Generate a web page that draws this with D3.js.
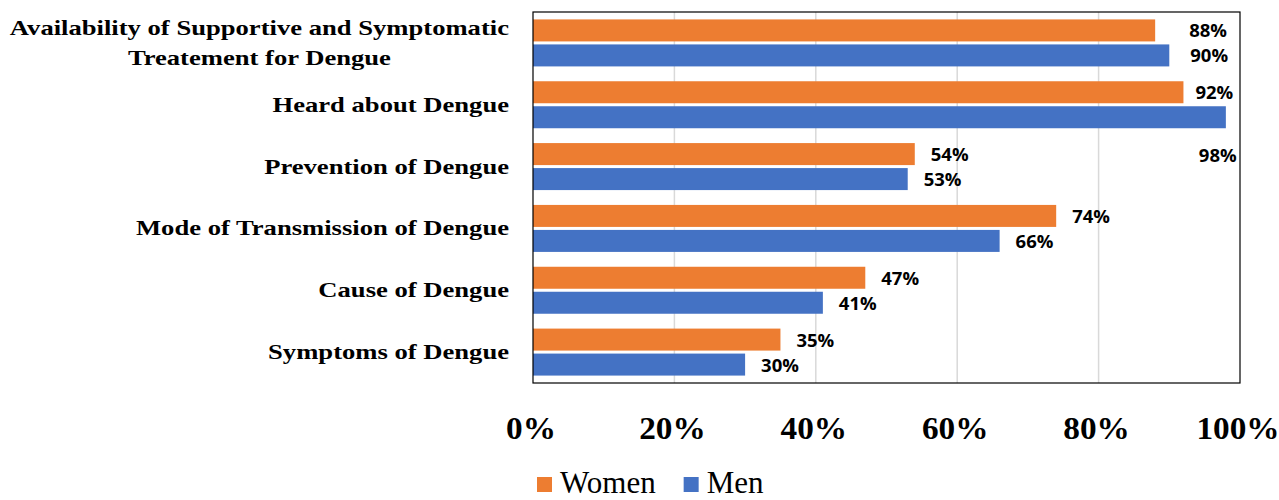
<!DOCTYPE html>
<html><head><meta charset="utf-8">
<script src="https://cdn.jsdelivr.net/npm/d3@7/dist/d3.min.js"></script>
<style>body{margin:0;background:#fff}svg{display:block}</style>
</head><body>
<svg id="chart" width="1279" height="500"></svg>
<script>
const categories = [
  "Availability of Supportive and Symptomatic\nTreatement for Dengue",
  "Heard about Dengue",
  "Prevention of Dengue",
  "Mode of Transmission of Dengue",
  "Cause of Dengue",
  "Symptoms of Dengue"
];
const seriesNames = ["Women", "Men"];
const women = [88, 92, 54, 74, 47, 35];
const men = [90, 98, 53, 66, 41, 30];
const xTicks = [0, 20, 40, 60, 80, 100];
const colors = {Women: "#ED7D31", Men: "#4472C4"};

const svg = d3.select("#chart");
const L = 533, R = 1240, T = 12, B = 383;
const x = d3.scaleLinear().domain([0, 100]).range([L, R]);
const y = d3.scaleBand().domain(categories).range([T, B]).paddingInner(0.24).paddingOuter(0.12);
const y1 = d3.scaleBand().domain(seriesNames).range([0, y.bandwidth()]).paddingInner(0.12);

// gridlines
svg.append("g").selectAll("line").data(xTicks.slice(1, -1)).join("line")
  .attr("x1", d => x(d)).attr("x2", d => x(d)).attr("y1", T).attr("y2", B)
  .attr("stroke", "#d9d9d9").attr("stroke-width", 1.5);

const data = categories.map((c, i) => ({cat: c, Women: women[i], Men: men[i]}));

const g = svg.append("g");
data.forEach(d => {
  seriesNames.forEach(s => {
    g.append("rect")
      .attr("x", x(0)).attr("y", y(d.cat) + y1(s))
      .attr("width", x(d[s]) - x(0)).attr("height", y1.bandwidth())
      .attr("fill", colors[s]);
  });
});

// manual label nudges (as in the original figure)
const nudge = {
  "0-Women": [18, 0], "0-Men": [5, 0], "1-Women": [-4, 0], "1-Men": [-43, 38]
};
data.forEach((d, i) => {
  seriesNames.forEach(s => {
    const n = nudge[i + "-" + s] || [0, 0];
    svg.append("text")
      .attr("x", x(d[s]) + 16 + n[0])
      .attr("y", y(d.cat) + y1(s) + y1.bandwidth() / 2 + 2 + n[1])
      .attr("dominant-baseline", "middle")
      .attr("font-family", "'Open Sans', sans-serif").attr("font-weight", 700)
      .attr("font-size", 18.5).attr("fill", "#000")
      .text(d[s] + "%");
  });
});

// frame
svg.append("rect").attr("x", L).attr("y", T).attr("width", R - L).attr("height", B - T)
  .attr("fill", "none").attr("stroke", "#000").attr("stroke-width", 1.2);

// category labels (horizontally stretched like the source image)
const sx = 1.21;
categories.forEach(c => {
  const lines = c.split("\n");
  const cy = y(c) + y.bandwidth() / 2;
  const lh = 30;
  const right = 509;
  const t = svg.append("text")
    .attr("transform", `translate(${right},0) scale(${sx},1)`)
    .attr("font-family", "'Liberation Serif', 'Times New Roman', serif")
    .attr("font-weight", 700).attr("font-size", 22).attr("fill", "#000");
  const tsp = lines.map((ln, k) => t.append("tspan").text(ln)
    .attr("y", cy + 7 + (k - (lines.length - 1) / 2) * lh));
  const maxW = d3.max(tsp.map(s => s.node().getComputedTextLength()));
  tsp.forEach(s => s.attr("x", -maxW / 2).attr("text-anchor", "middle"));
});

// x axis tick labels
svg.append("g").selectAll("text").data(xTicks).join("text")
  .attr("transform", d => `translate(${x(d) - 2},439) scale(1.04,1)`)
  .attr("text-anchor", "middle")
  .attr("font-family", "'Liberation Serif', 'Times New Roman', serif")
  .attr("font-weight", 700).attr("font-size", 32).attr("fill", "#000")
  .text(d => d + "%");

// legend
const leg = svg.append("g");
let lx = 537;
seriesNames.forEach(s => {
  leg.append("rect").attr("x", lx).attr("y", 477).attr("width", 15).attr("height", 15).attr("fill", colors[s]);
  const t = leg.append("text").attr("x", lx + 23).attr("y", 493)
    .attr("font-family", "'Liberation Serif', 'Times New Roman', serif")
    .attr("font-size", 31).attr("fill", "#000").text(s);
  lx += 23 + t.node().getComputedTextLength() + 28;
});
</script>
</body></html>
